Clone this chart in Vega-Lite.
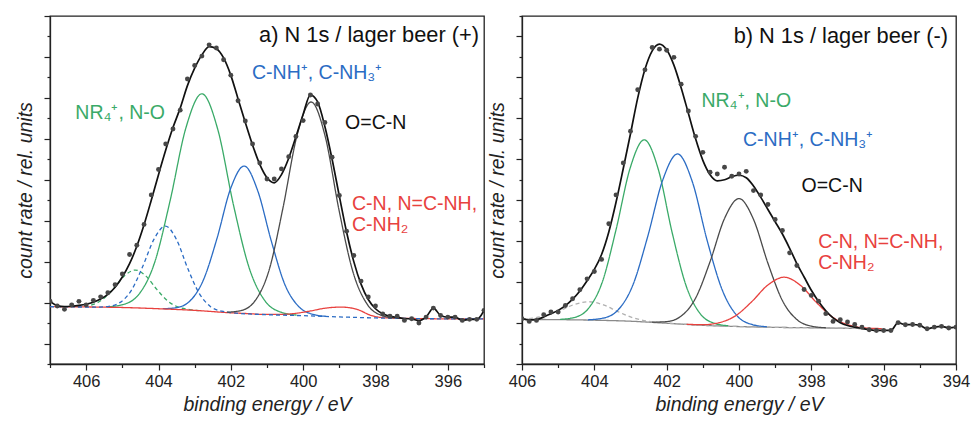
{
  "$schema": "https://vega.github.io/schema/vega-lite/v6.json",
  "padding": {"left": 14, "top": 14, "right": 5, "bottom": 5},
  "spacing": 0,
  "resolve": {"scale": {"color": "independent", "strokeDash": "independent"}},
  "config": {
    "font": "Liberation Sans",
    "view": {"stroke": "#222222", "strokeWidth": 1.3},
    "axis": {"domainColor": "#222222", "tickColor": "#222222", "domainWidth": 1.3, "tickWidth": 1.2, "labelColor": "#222222", "titleColor": "#222222", "labelFont": "Liberation Sans", "titleFont": "Liberation Sans", "grid": false},
    "text": {"font": "Liberation Sans"}
  },
  "datasets": {
    "compA": [
      {"s":"NR","E":405.43,"y":2.79},{"s":"NR","E":404.99,"y":2.90},{"s":"NR","E":404.55,"y":3.39},{"s":"NR","E":404.11,"y":4.94},{"s":"NR","E":403.68,"y":7.97},{"s":"NR","E":403.24,"y":11.55},{"s":"NR","E":402.80,"y":13.20},{"s":"NR","E":402.36,"y":11.45},{"s":"NR","E":401.93,"y":7.79},{"s":"NR","E":401.49,"y":4.68},{"s":"NR","E":401.05,"y":3.07},{"s":"NR","E":400.61,"y":2.53},{"s":"NR","E":400.18,"y":2.39},
      {"s":"NRs","E":406.44,"y":2.79},{"s":"NRs","E":406.14,"y":2.81},{"s":"NRs","E":405.84,"y":2.89},{"s":"NRs","E":405.54,"y":3.16},{"s":"NRs","E":405.24,"y":3.69},{"s":"NRs","E":404.94,"y":4.31},{"s":"NRs","E":404.64,"y":4.59},{"s":"NRs","E":404.34,"y":4.28},{"s":"NRs","E":404.04,"y":3.63},{"s":"NRs","E":403.74,"y":3.07},{"s":"NRs","E":403.44,"y":2.77},{"s":"NRs","E":403.14,"y":2.66},{"s":"NRs","E":402.84,"y":2.60},
      {"s":"CNH","E":403.88,"y":2.70},{"s":"CNH","E":403.51,"y":2.75},{"s":"CNH","E":403.13,"y":3.08},{"s":"CNH","E":402.76,"y":4.10},{"s":"CNH","E":402.38,"y":6.15},{"s":"CNH","E":402.01,"y":8.55},{"s":"CNH","E":401.63,"y":9.67},{"s":"CNH","E":401.26,"y":8.48},{"s":"CNH","E":400.88,"y":6.00},{"s":"CNH","E":400.51,"y":3.90},{"s":"CNH","E":400.13,"y":2.82},{"s":"CNH","E":399.76,"y":2.44},{"s":"CNH","E":399.38,"y":2.33},
      {"s":"CN","E":407.0,"y":2.80},{"s":"CN","E":405.0,"y":2.76},{"s":"CN","E":404.0,"y":2.70},{"s":"CN","E":403.0,"y":2.62},{"s":"CN","E":402.0,"y":2.50},{"s":"CN","E":401.50,"y":2.46},{"s":"CN","E":401.08,"y":2.42},{"s":"CN","E":400.65,"y":2.42},{"s":"CN","E":400.23,"y":2.47},{"s":"CN","E":399.80,"y":2.59},{"s":"CN","E":399.38,"y":2.73},{"s":"CN","E":398.95,"y":2.78},{"s":"CN","E":398.53,"y":2.68},{"s":"CN","E":398.10,"y":2.36},{"s":"CN","E":397.68,"y":2.25},{"s":"CN","E":397.25,"y":2.23},{"s":"CN","E":396.83,"y":2.22},{"s":"CN","E":396.40,"y":2.21},{"s":"CN","E":395.0,"y":2.20},
      {"s":"CNHs","E":407.0,"y":2.80},{"s":"CNHs","E":406.2,"y":2.785},{"s":"CNHs","E":405.69,"y":2.78},{"s":"CNHs","E":405.37,"y":2.82},{"s":"CNHs","E":405.06,"y":3.01},{"s":"CNHs","E":404.75,"y":3.60},{"s":"CNHs","E":404.44,"y":4.75},{"s":"CNHs","E":404.12,"y":6.11},{"s":"CNHs","E":403.81,"y":6.74},{"s":"CNHs","E":403.50,"y":6.07},{"s":"CNHs","E":403.19,"y":4.66},{"s":"CNHs","E":402.87,"y":3.44},{"s":"CNHs","E":402.56,"y":2.80},{"s":"CNHs","E":402.25,"y":2.58},{"s":"CNHs","E":401.94,"y":2.50},{"s":"CNHs","E":401.0,"y":2.41},{"s":"CNHs","E":400.0,"y":2.36},{"s":"CNHs","E":399.0,"y":2.30},{"s":"CNHs","E":398.0,"y":2.25},{"s":"CNHs","E":397.0,"y":2.22},{"s":"CNHs","E":395.0,"y":2.20},
      {"s":"OCN","E":402.11,"y":2.53},{"s":"OCN","E":401.72,"y":2.61},{"s":"OCN","E":401.33,"y":3.09},{"s":"OCN","E":400.94,"y":4.60},{"s":"OCN","E":400.56,"y":7.61},{"s":"OCN","E":400.17,"y":11.16},{"s":"OCN","E":399.78,"y":12.80},{"s":"OCN","E":399.39,"y":11.11},{"s":"OCN","E":399.01,"y":7.53},{"s":"OCN","E":398.62,"y":4.48},{"s":"OCN","E":398.23,"y":2.92},{"s":"OCN","E":397.84,"y":2.38},{"s":"OCN","E":397.46,"y":2.25}
    ],
    "envA": [
      {"E":407.0,"y":3.05},{"E":406.8,"y":2.85},{"E":406.6,"y":2.80},{"E":406.4,"y":2.82},{"E":406.2,"y":2.86},{"E":406.0,"y":2.92},{"E":405.8,"y":3.02},{"E":405.6,"y":3.17},{"E":405.4,"y":3.40},{"E":405.2,"y":3.75},{"E":405.0,"y":4.25},{"E":404.8,"y":4.90},{"E":404.6,"y":5.75},{"E":404.4,"y":6.80},{"E":404.2,"y":8.00},{"E":404.0,"y":9.25},{"E":403.8,"y":10.45},{"E":403.6,"y":11.55},{"E":403.4,"y":12.50},{"E":403.2,"y":13.60},{"E":403.0,"y":14.45},{"E":402.8,"y":15.10},{"E":402.6,"y":15.50},{"E":402.4,"y":15.40},{"E":402.2,"y":14.95},{"E":402.0,"y":14.10},{"E":401.8,"y":12.95},{"E":401.6,"y":11.80},{"E":401.4,"y":10.70},{"E":401.2,"y":9.75},{"E":401.0,"y":9.10},{"E":400.8,"y":8.85},{"E":400.6,"y":9.25},{"E":400.4,"y":10.05},{"E":400.2,"y":11.10},{"E":400.0,"y":12.20},{"E":399.8,"y":13.15},{"E":399.6,"y":12.80},{"E":399.4,"y":11.60},{"E":399.2,"y":10.00},{"E":399.0,"y":8.20},{"E":398.8,"y":6.45},{"E":398.6,"y":5.00},{"E":398.4,"y":3.90},{"E":398.2,"y":3.15},{"E":398.0,"y":2.70},{"E":397.8,"y":2.45},{"E":397.6,"y":2.33},{"E":397.4,"y":2.28},{"E":397.2,"y":2.22},{"E":397.0,"y":2.20},{"E":396.8,"y":2.12},{"E":396.6,"y":2.30},{"E":396.4,"y":2.73},{"E":396.2,"y":2.37},{"E":396.0,"y":2.29},{"E":395.8,"y":2.29},{"E":395.6,"y":2.13},{"E":395.4,"y":2.18},{"E":395.2,"y":2.18},{"E":395.0,"y":2.62}
    ],
    "ptsA": [
      {"E":407.0,"y":3.07},{"E":406.8,"y":2.83},{"E":406.6,"y":2.67},{"E":406.4,"y":2.89},{"E":406.2,"y":3.06},{"E":406.0,"y":2.89},{"E":405.8,"y":3.11},{"E":405.6,"y":3.28},{"E":405.4,"y":3.48},{"E":405.2,"y":3.87},{"E":405.0,"y":4.40},{"E":404.8,"y":5.35},{"E":404.6,"y":5.80},{"E":404.4,"y":6.82},{"E":404.2,"y":8.26},{"E":404.0,"y":9.50},{"E":403.8,"y":10.75},{"E":403.6,"y":11.48},{"E":403.4,"y":12.40},{"E":403.2,"y":13.92},{"E":403.0,"y":14.58},{"E":402.8,"y":15.04},{"E":402.6,"y":15.59},{"E":402.4,"y":15.44},{"E":402.2,"y":14.86},{"E":402.0,"y":14.11},{"E":401.8,"y":12.86},{"E":401.6,"y":11.87},{"E":401.4,"y":10.75},{"E":401.2,"y":9.82},{"E":401.0,"y":9.04},{"E":400.8,"y":9.04},{"E":400.6,"y":9.53},{"E":400.4,"y":10.13},{"E":400.2,"y":11.11},{"E":400.0,"y":11.89},{"E":399.8,"y":13.14},{"E":399.6,"y":12.70},{"E":399.4,"y":11.80},{"E":399.2,"y":10.10},{"E":399.0,"y":8.23},{"E":398.8,"y":6.49},{"E":398.6,"y":5.30},{"E":398.4,"y":4.05},{"E":398.2,"y":3.27},{"E":398.0,"y":2.83},{"E":397.8,"y":2.44},{"E":397.6,"y":2.33},{"E":397.4,"y":2.33},{"E":397.2,"y":2.13},{"E":397.0,"y":2.21},{"E":396.8,"y":2.00},{"E":396.6,"y":2.29},{"E":396.4,"y":2.73},{"E":396.2,"y":2.37},{"E":396.0,"y":2.29},{"E":395.8,"y":2.29},{"E":395.6,"y":2.13},{"E":395.4,"y":2.18},{"E":395.2,"y":2.18},{"E":395.0,"y":2.62}
    ],
    "lblA": [
      {"s":"NR","E":406.30,"y":11.97,"t":"NR₄⁺, N-O"},
      {"s":"CNH","E":401.415,"y":13.92,"t":"C-NH⁺, C-NH₃⁺"},
      {"s":"txt","E":398.84,"y":11.48,"t":"O=C-N"},
      {"s":"CN","E":398.65,"y":7.50,"t":"C-N, N=C-NH,\nC-NH₂"}
    ],
    "compB": [
      {"s":"base","E":406.0,"y":2.18},{"s":"base","E":404.0,"y":2.14},{"s":"base","E":403.0,"y":2.09},{"s":"base","E":402.0,"y":1.99},{"s":"base","E":401.0,"y":1.89},{"s":"base","E":400.0,"y":1.83},{"s":"base","E":399.0,"y":1.79},{"s":"base","E":398.0,"y":1.77},{"s":"base","E":396.5,"y":1.73},
      {"s":"GRs","E":406.0,"y":2.20},{"s":"GRs","E":405.75,"y":2.23},{"s":"GRs","E":405.35,"y":2.36},{"s":"GRs","E":404.95,"y":2.61},{"s":"GRs","E":404.55,"y":2.91},{"s":"GRs","E":404.15,"y":3.04},{"s":"GRs","E":403.75,"y":2.89},{"s":"GRs","E":403.35,"y":2.56},{"s":"GRs","E":402.95,"y":2.27},{"s":"GRs","E":402.55,"y":2.10},{"s":"GRs","E":402.15,"y":2.02},{"s":"GRs","E":401.75,"y":1.97},{"s":"GRs","E":401.0,"y":1.89},{"s":"GRs","E":400.0,"y":1.83},{"s":"GRs","E":399.0,"y":1.79},{"s":"GRs","E":398.0,"y":1.77},{"s":"GRs","E":396.5,"y":1.73},
      {"s":"NR","E":404.95,"y":2.18},{"s":"NR","E":404.56,"y":2.27},{"s":"NR","E":404.17,"y":2.70},{"s":"NR","E":403.78,"y":4.00},{"s":"NR","E":403.40,"y":6.56},{"s":"NR","E":403.01,"y":9.57},{"s":"NR","E":402.62,"y":10.95},{"s":"NR","E":402.23,"y":9.50},{"s":"NR","E":401.85,"y":6.43},{"s":"NR","E":401.46,"y":3.81},{"s":"NR","E":401.07,"y":2.45},{"s":"NR","E":400.68,"y":1.99},{"s":"NR","E":400.30,"y":1.87},
      {"s":"CNH","E":404.18,"y":2.16},{"s":"CNH","E":403.76,"y":2.24},{"s":"CNH","E":403.35,"y":2.63},{"s":"CNH","E":402.94,"y":3.83},{"s":"CNH","E":402.53,"y":6.19},{"s":"CNH","E":402.11,"y":8.98},{"s":"CNH","E":401.70,"y":10.26},{"s":"CNH","E":401.29,"y":8.90},{"s":"CNH","E":400.88,"y":6.03},{"s":"CNH","E":400.46,"y":3.60},{"s":"CNH","E":400.05,"y":2.35},{"s":"CNH","E":399.64,"y":1.93},{"s":"CNH","E":399.23,"y":1.82},
      {"s":"OCN","E":402.4,"y":2.04},{"s":"OCN","E":402.0,"y":2.07},{"s":"OCN","E":401.6,"y":2.34},{"s":"OCN","E":401.2,"y":3.22},{"s":"OCN","E":400.8,"y":5.00},{"s":"OCN","E":400.4,"y":7.11},{"s":"OCN","E":400.0,"y":8.08},{"s":"OCN","E":399.6,"y":7.07},{"s":"OCN","E":399.2,"y":4.92},{"s":"OCN","E":398.8,"y":3.10},{"s":"OCN","E":398.4,"y":2.17},{"s":"OCN","E":398.0,"y":1.85},{"s":"OCN","E":397.6,"y":1.77},
      {"s":"CN","E":401.45,"y":1.94},{"s":"CN","E":401.00,"y":1.92},{"s":"CN","E":400.55,"y":2.02},{"s":"CN","E":400.10,"y":2.35},{"s":"CN","E":399.65,"y":3.04},{"s":"CN","E":399.20,"y":3.86},{"s":"CN","E":398.75,"y":4.24},{"s":"CN","E":398.30,"y":3.84},{"s":"CN","E":397.85,"y":2.99},{"s":"CN","E":397.40,"y":2.27},{"s":"CN","E":396.95,"y":1.90},{"s":"CN","E":396.50,"y":1.76},{"s":"CN","E":396.05,"y":1.73}
    ],
    "envB": [
      {"E":406.0,"y":2.22},{"E":405.8,"y":2.16},{"E":405.6,"y":2.17},{"E":405.4,"y":2.30},{"E":405.2,"y":2.45},{"E":405.0,"y":2.62},{"E":404.8,"y":2.85},{"E":404.6,"y":3.17},{"E":404.4,"y":3.57},{"E":404.2,"y":4.07},{"E":404.0,"y":4.62},{"E":403.8,"y":5.35},{"E":403.6,"y":6.45},{"E":403.4,"y":7.90},{"E":403.2,"y":9.55},{"E":403.0,"y":11.25},{"E":402.8,"y":13.00},{"E":402.6,"y":14.40},{"E":402.4,"y":15.30},{"E":402.2,"y":15.63},{"E":402.0,"y":15.35},{"E":401.8,"y":14.60},{"E":401.6,"y":13.50},{"E":401.4,"y":12.25},{"E":401.2,"y":11.00},{"E":401.0,"y":9.95},{"E":400.8,"y":9.25},{"E":400.6,"y":8.95},{"E":400.4,"y":9.00},{"E":400.2,"y":9.15},{"E":400.0,"y":9.22},{"E":399.8,"y":9.10},{"E":399.6,"y":8.70},{"E":399.4,"y":8.15},{"E":399.2,"y":7.55},{"E":399.0,"y":6.95},{"E":398.8,"y":6.35},{"E":398.6,"y":5.65},{"E":398.4,"y":4.90},{"E":398.2,"y":4.25},{"E":398.0,"y":3.60},{"E":397.8,"y":3.05},{"E":397.6,"y":2.60},{"E":397.4,"y":2.25},{"E":397.2,"y":2.02},{"E":397.0,"y":1.88},{"E":396.8,"y":1.80},{"E":396.6,"y":1.74},{"E":396.4,"y":1.68},{"E":396.2,"y":1.64},{"E":396.0,"y":1.64},{"E":395.8,"y":1.64},{"E":395.6,"y":2.02},{"E":395.4,"y":1.92},{"E":395.2,"y":1.93},{"E":395.0,"y":1.89},{"E":394.8,"y":1.72},{"E":394.6,"y":1.80},{"E":394.4,"y":1.84},{"E":394.2,"y":1.76},{"E":394.0,"y":1.80}
    ],
    "ptsB": [
      {"E":406.0,"y":2.21},{"E":405.8,"y":2.08},{"E":405.6,"y":2.13},{"E":405.4,"y":2.41},{"E":405.2,"y":2.54},{"E":405.0,"y":2.54},{"E":404.8,"y":2.86},{"E":404.6,"y":3.19},{"E":404.4,"y":3.63},{"E":404.2,"y":4.16},{"E":404.0,"y":4.52},{"E":403.8,"y":5.11},{"E":403.6,"y":6.85},{"E":403.4,"y":8.26},{"E":403.2,"y":9.82},{"E":403.0,"y":11.37},{"E":402.8,"y":13.40},{"E":402.6,"y":14.37},{"E":402.4,"y":15.46},{"E":402.2,"y":15.38},{"E":402.0,"y":15.33},{"E":401.8,"y":14.98},{"E":401.6,"y":13.67},{"E":401.4,"y":12.36},{"E":401.2,"y":11.12},{"E":401.0,"y":10.34},{"E":400.8,"y":9.37},{"E":400.6,"y":9.28},{"E":400.4,"y":9.61},{"E":400.2,"y":9.17},{"E":400.0,"y":9.28},{"E":399.8,"y":9.41},{"E":399.6,"y":8.47},{"E":399.4,"y":8.26},{"E":399.2,"y":7.79},{"E":399.0,"y":7.06},{"E":398.8,"y":6.52},{"E":398.6,"y":5.43},{"E":398.4,"y":4.81},{"E":398.2,"y":3.64},{"E":398.0,"y":3.35},{"E":397.8,"y":3.07},{"E":397.6,"y":2.46},{"E":397.4,"y":2.08},{"E":397.2,"y":2.16},{"E":397.0,"y":2.05},{"E":396.8,"y":1.93},{"E":396.6,"y":1.80},{"E":396.4,"y":1.67},{"E":396.2,"y":1.64},{"E":396.0,"y":1.64},{"E":395.8,"y":1.64},{"E":395.6,"y":2.02},{"E":395.4,"y":1.92},{"E":395.2,"y":1.93},{"E":395.0,"y":1.89},{"E":394.8,"y":1.72},{"E":394.6,"y":1.80},{"E":394.4,"y":1.84},{"E":394.2,"y":1.76},{"E":394.0,"y":1.80}
    ],
    "lblB": [
      {"s":"NR","E":401.04,"y":12.54,"t":"NR₄⁺, N-O"},
      {"s":"CNH","E":399.89,"y":10.63,"t":"C-NH⁺, C-NH₃⁺"},
      {"s":"txt","E":398.27,"y":8.39,"t":"O=C-N"},
      {"s":"CN","E":397.81,"y":5.67,"t":"C-N, N=C-NH,\nC-NH₂"}
    ]
  },
  "hconcat": [
    {
      "width": 434,
      "height": 348,
      "encoding": {
        "x": {"field": "E", "type": "quantitative", "scale": {"domain": [395, 407], "reverse": true, "nice": false, "zero": false},
          "axis": {"title": "binding energy / eV", "values": [395,396,397,398,399,400,401,402,403,404,405,406,407], "labelExpr": "datum.value % 2 === 0 ? datum.label : ''", "labelOverlap": false, "labelFlush": false, "tickSize": {"condition": {"test": "datum.value % 2 === 0", "value": 6}, "value": 3.5}, "labelFontSize": 16.5, "labelPadding": 3, "titleFontSize": 19.5, "titleFontStyle": "italic", "titleFontWeight": "normal", "titlePadding": 6}},
        "y": {"field": "y", "type": "quantitative", "scale": {"domain": [0, 17], "nice": false, "zero": false},
          "axis": {"title": "count rate / rel. units", "values": [0,1,2,3,4,5,6,7,8,9,10,11,12,13,14,15,16,17], "labels": false, "tickSize": {"condition": {"test": "datum.value % 2 === 1", "value": 6}, "value": 3}, "titleFontSize": 19.5, "titleFontStyle": "italic", "titleFontWeight": "normal", "titlePadding": 8}}
      },
      "layer": [
        {
          "data": {"name": "compA"},
          "mark": {"type": "line", "interpolate": "monotone", "strokeWidth": 1.3, "clip": true},
          "encoding": {
            "color": {"field": "s", "type": "nominal", "legend": null, "scale": {"domain": ["env","NR","NRs","CNH","CNHs","OCN","CN","txt","base","GRs"], "range": ["#111111","#3aaa68","#3aaa68","#2b6cc4","#2b6cc4","#4a4a4a","#e8413e","#111111","#8a8a8a","#b0b0b0"]}},
            "strokeDash": {"field": "s", "type": "nominal", "legend": null, "scale": {"domain": ["NR","NRs","CNH","CNHs","OCN","CN","base","GRs"], "range": [[1,0],[4,3],[1,0],[4,3],[1,0],[1,0],[1,0],[4,3]]}}
          }
        },
        {
          "data": {"name": "envA"},
          "mark": {"type": "line", "interpolate": "monotone", "strokeWidth": 1.7, "color": "#111111", "clip": true},
          "encoding": {}
        },
        {
          "data": {"name": "ptsA"},
          "mark": {"type": "point", "filled": true, "size": 24, "color": "#474747", "opacity": 1, "clip": true},
          "encoding": {}
        },
        {
          "data": {"name": "lblA"},
          "mark": {"type": "text", "align": "left", "baseline": "alphabetic", "fontSize": 19.5, "lineBreak": "\n", "lineHeight": 21},
          "encoding": {
            "text": {"field": "t"},
            "color": {"field": "s", "type": "nominal", "legend": null, "scale": {"domain": ["env","NR","NRs","CNH","CNHs","OCN","CN","txt","base","GRs"], "range": ["#111111","#3aaa68","#3aaa68","#2b6cc4","#2b6cc4","#4a4a4a","#e8413e","#111111","#8a8a8a","#b0b0b0"]}}
          }
        },
        {
          "data": {"values": [{"E": 395.14, "y": 15.73, "t": "a) N 1s / lager beer (+)"}]},
          "mark": {"type": "text", "align": "right", "baseline": "alphabetic", "fontSize": 21.8, "color": "#111111"},
          "encoding": {"text": {"field": "t"}}
        }
      ]
    },
    {
      "width": 434,
      "height": 348,
      "encoding": {
        "x": {"field": "E", "type": "quantitative", "scale": {"domain": [394, 406], "reverse": true, "nice": false, "zero": false},
          "axis": {"title": "binding energy / eV", "values": [394,395,396,397,398,399,400,401,402,403,404,405,406], "labelExpr": "datum.value % 2 === 0 ? datum.label : ''", "labelOverlap": false, "labelFlush": false, "tickSize": {"condition": {"test": "datum.value % 2 === 0", "value": 6}, "value": 3.5}, "labelFontSize": 16.5, "labelPadding": 3, "titleFontSize": 19.5, "titleFontStyle": "italic", "titleFontWeight": "normal", "titlePadding": 6}},
        "y": {"field": "y", "type": "quantitative", "scale": {"domain": [0, 17], "nice": false, "zero": false},
          "axis": {"title": "count rate / rel. units", "values": [0,1,2,3,4,5,6,7,8,9,10,11,12,13,14,15,16,17], "labels": false, "tickSize": {"condition": {"test": "datum.value % 2 === 0", "value": 6}, "value": 3}, "titleFontSize": 19.5, "titleFontStyle": "italic", "titleFontWeight": "normal", "titlePadding": 8}}
      },
      "layer": [
        {
          "data": {"name": "compB"},
          "mark": {"type": "line", "interpolate": "monotone", "strokeWidth": 1.3, "clip": true},
          "encoding": {
            "color": {"field": "s", "type": "nominal", "legend": null, "scale": {"domain": ["env","NR","NRs","CNH","CNHs","OCN","CN","txt","base","GRs"], "range": ["#111111","#3aaa68","#3aaa68","#2b6cc4","#2b6cc4","#4a4a4a","#e8413e","#111111","#8a8a8a","#b0b0b0"]}},
            "strokeDash": {"field": "s", "type": "nominal", "legend": null, "scale": {"domain": ["NR","NRs","CNH","CNHs","OCN","CN","base","GRs"], "range": [[1,0],[4,3],[1,0],[4,3],[1,0],[1,0],[1,0],[4,3]]}}
          }
        },
        {
          "data": {"name": "envB"},
          "mark": {"type": "line", "interpolate": "monotone", "strokeWidth": 1.7, "color": "#111111", "clip": true},
          "encoding": {}
        },
        {
          "data": {"name": "ptsB"},
          "mark": {"type": "point", "filled": true, "size": 24, "color": "#474747", "opacity": 1, "clip": true},
          "encoding": {}
        },
        {
          "data": {"name": "lblB"},
          "mark": {"type": "text", "align": "left", "baseline": "alphabetic", "fontSize": 19.5, "lineBreak": "\n", "lineHeight": 21},
          "encoding": {
            "text": {"field": "t"},
            "color": {"field": "s", "type": "nominal", "legend": null, "scale": {"domain": ["env","NR","NRs","CNH","CNHs","OCN","CN","txt","base","GRs"], "range": ["#111111","#3aaa68","#3aaa68","#2b6cc4","#2b6cc4","#4a4a4a","#e8413e","#111111","#8a8a8a","#b0b0b0"]}}
          }
        },
        {
          "data": {"values": [{"E": 394.22, "y": 15.67, "t": "b) N 1s / lager beer (-)"}]},
          "mark": {"type": "text", "align": "right", "baseline": "alphabetic", "fontSize": 21.8, "color": "#111111"},
          "encoding": {"text": {"field": "t"}}
        }
      ]
    }
  ]
}
